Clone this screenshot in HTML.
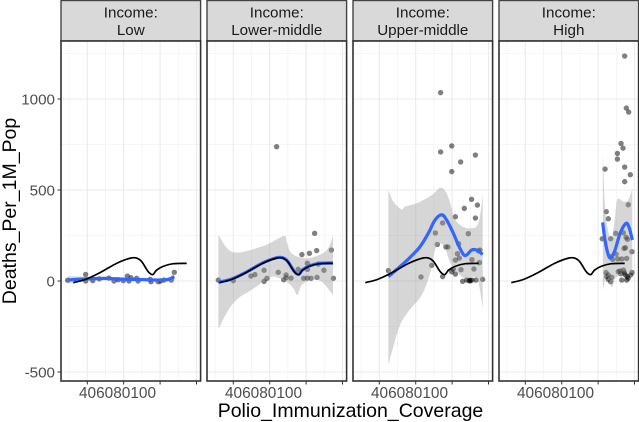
<!DOCTYPE html>
<html>
<head>
<meta charset="utf-8">
<style>
html,body{margin:0;padding:0;background:#fff;width:639px;height:422px;overflow:hidden}
svg{display:block;font-family:"Liberation Sans",sans-serif;filter:blur(0.35px)}
</style>
</head>
<body>
<svg id="chart" width="639" height="422" viewBox="0 0 639 422"></svg>
<script>
const panelNames = ["low", "lower-middle", "upper-middle", "high"];
const stripLine1 = ["Income:", "Income:", "Income:", "Income:"];
const stripLine2 = ["Low", "Lower-middle", "Upper-middle", "High"];
const xMajor = [40, 60, 80, 100];
const xMinor = [30, 50, 70, 90];
const xTickLabels = ["40", "60", "80", "100"];
const yMajor = [-500, 0, 500, 1000];
const yMinor = [-250, 250, 750, 1250];
const yTickLabels = ["-500", "0", "500", "1000"];

const globalX = [32.3, 39.1, 47, 56.1, 63.5, 67.1, 69.9, 73.5, 75.9, 78.1, 81.8, 87.3, 94.6];
const globalY = [-9, 9, 46, 97, 125, 126, 106, 51, 35, 60, 81, 95, 97];

const lowX = [29.2, 39.1, 39.1, 43, 46.6, 51.9, 54.7, 57, 59.8, 62, 64, 62.9, 67.1, 67.9, 74.5, 75, 79, 80.3, 82.1, 86.2, 87.8];
const lowY = [4, 36, 0, 2, 12, 16, 0, 7, 2, 27, 18, 0, 15, 0, 9, -4, -4, 0, 5, 5, 48];
const lowSmoothX = [29.2, 40, 50, 60, 70, 80, 85, 87.8];
const lowSmoothY = [6, 12, 14, 10, 8, 5, 10, 24];
const lowUpper = [26, 24, 24, 20, 18, 15, 22, 46];
const lowLower = [-14, 0, 4, 0, -2, -5, -2, 2];

const lowerMidX = [31.8, 40, 49.7, 51.9, 56.9, 56.9, 58.5, 64.7, 67.7, 69, 69, 71.7, 75.7, 77.7, 78.7, 80.7, 80.7, 80.7, 81.8, 82.7, 85.8, 86, 86.7, 89.8, 93.9, 95, 63.8, 84.7];
const lowerMidY = [5, 2, 27, 35, 59, -2, 15, 48, 7, 33, 18, 16, 64, 145, 15, 97, 64, 16, 152, 15, 167, 20, 93, 59, 170, 15, 738, 262];
const lowerMidSmoothX = [31.8, 39.1, 47, 56.1, 63.5, 67.1, 69.9, 73.5, 75.9, 78.1, 81.8, 87.3, 94.8];
const lowerMidSmoothY = [-7, 11, 48, 99, 127, 128, 108, 53, 37, 62, 83, 97, 99];
const lowerMidUpperX = [31.8, 40, 56.5, 67.7, 69.3, 72, 79, 84.9, 90.4, 93, 94.8];
const lowerMidUpperY = [253, 158, 192, 247, 216, 152, 125, 134, 161, 197, 253];
const lowerMidLowerX = [31.8, 37.3, 42.8, 50, 56.5, 61, 64.7, 69.3, 73, 75.2, 77.6, 83, 88.6, 94.8];
const lowerMidLowerY = [-264, -159, -95, -49, -4, 24, 18, -4, -40, -77, -22, 5, -4, -77];

const upperMidX = [73.7, 79.8, 73.7, 92.8, 84.7, 79.8, 90.7, 93.9, 86.7, 81.8, 92.8, 74.8, 70.8, 88.9, 71.9, 83.6, 76.6, 77.7, 95.3, 82.9, 84, 81.8, 90.9, 95, 68.8, 45, 62.9, 74.8, 92, 79.8, 80.7, 81.8, 84.9, 85.8, 88, 89.8, 90.9, 93.1, 96.8, 90, 89.4, 94.5];
const upperMidY = [1035, 742, 709, 692, 654, 601, 449, 417, 399, 353, 346, 319, 264, 260, 201, 205, 187, 187, 170, 150, 126, 115, 117, 101, 86, 57, 22, 24, 66, 51, 66, 38, 62, -2, 5, 0, 5, 5, 9, 3, 3, 165];
const upperMidSmoothX = [45, 51.4, 56.9, 62.4, 66.9, 70.6, 74.3, 77, 80.7, 83.4, 86.2, 88, 90.7, 93.5, 96.8];
const upperMidSmoothY = [24, 79, 130, 189, 262, 335, 364, 335, 262, 198, 146, 143, 170, 170, 146];
const upperMidUpperX = [45, 47.7, 52.3, 54.1, 60.5, 68.8, 73.7, 77, 79.8, 80.7, 84.3, 89.8, 94.4, 96.8];
const upperMidUpperY = [500, 436, 393, 408, 427, 472, 513, 481, 399, 353, 308, 289, 317, 470];
const upperMidLowerX = [45, 47.7, 51.4, 55.9, 63.3, 67.9, 70.6, 73.3, 76.1, 78.8, 82.5, 87.1, 91.7, 94.4, 96.8];
const upperMidLowerY = [-458, -361, -242, -169, -77, 42, 170, 207, 179, 106, 51, 14, 24, -4, -150];

const highX = [94.6, 95.5, 96.8, 92.6, 93.7, 90.6, 90.6, 94.6, 83.8, 97.7, 94.6, 96.6, 84.5, 85.6, 82.3, 86.9, 89.7, 93.9, 95.4, 96.1, 98.6, 94.3, 95, 89.9, 86.9, 88, 90.8, 93, 95.7, 84.4, 85.6, 87.5, 85.6, 86.9, 91.1, 92, 93.9, 95, 96.1, 93, 95.7, 98.6, 97.9, 84.7, 94.5, 96.5, 92.5];
const highY = [1236, 950, 928, 756, 730, 701, 670, 626, 615, 584, 546, 419, 381, 342, 232, 232, 262, 265, 240, 229, 161, 179, 183, 148, 134, 119, 121, 121, 124, 46, 33, 20, 9, -4, 51, 55, 60, 33, 24, 5, 5, 47, 33, 24, 45, 15, 40];
const highSmoothX = [82.5, 83.8, 85.6, 87.1, 89.3, 92.1, 95.4, 97.2, 98.8];
const highSmoothY = [322, 225, 143, 128, 170, 262, 317, 289, 225];
const highUpperX = [82.6, 83.8, 85.6, 87.5, 89.3, 90.6, 93.9, 96.6, 98.8];
const highUpperY = [700, 408, 271, 234, 353, 449, 436, 445, 509];
const highLowerX = [82.6, 84.7, 87.5, 89.3, 92.1, 93.9, 96.6, 98.8];
const highLowerY = [-50, 24, -32, 14, 33, 51, 45, 40];

const panelPoints = [[lowX, lowY], [lowerMidX, lowerMidY], [upperMidX, upperMidY], [highX, highY]];
const panelSmooth = [[lowSmoothX, lowSmoothY], [lowerMidSmoothX, lowerMidSmoothY], [upperMidSmoothX, upperMidSmoothY], [highSmoothX, highSmoothY]];
const panelRibbon = [
  [lowSmoothX, lowUpper, lowSmoothX, lowLower],
  [lowerMidUpperX, lowerMidUpperY, lowerMidLowerX, lowerMidLowerY],
  [upperMidUpperX, upperMidUpperY, upperMidLowerX, upperMidLowerY],
  [highUpperX, highUpperY, highLowerX, highLowerY]
];

const svg = document.getElementById('chart');
const NS = 'http://www.w3.org/2000/svg';
const panelLeft = i => 61 + 146 * i;
const panelWidth = 139.6, panelTop = 41, panelBottom = 381;
const xScale = (v, i) => panelLeft(i) + 26.3 + (v - 40) * 1.82;
const yScale = v => 281 - 0.182 * v;

function add(tag, attrs, parent) {
  const el = document.createElementNS(NS, tag);
  for (const k in attrs) el.setAttribute(k, attrs[k]);
  (parent || svg).appendChild(el);
  return el;
}
function curveSegs(p) {
  let d = '';
  for (let k = 0; k < p.length - 1; k++) {
    const p0 = p[Math.max(k - 1, 0)], p1 = p[k], p2 = p[k + 1], p3 = p[Math.min(k + 2, p.length - 1)];
    const c1x = p1[0] + (p2[0] - p0[0]) / 6, c1y = p1[1] + (p2[1] - p0[1]) / 6;
    const c2x = p2[0] - (p3[0] - p1[0]) / 6, c2y = p2[1] - (p3[1] - p1[1]) / 6;
    d += 'C' + c1x.toFixed(2) + ' ' + c1y.toFixed(2) + ' ' + c2x.toFixed(2) + ' ' + c2y.toFixed(2) + ' ' + p2[0].toFixed(2) + ' ' + p2[1].toFixed(2);
  }
  return d;
}
function toPixels(xs, ys, i) {
  return xs.map((v, k) => [xScale(v, i), yScale(ys[k])]);
}
function linePath(xs, ys, i) {
  const p = toPixels(xs, ys, i);
  return 'M' + p[0][0].toFixed(2) + ' ' + p[0][1].toFixed(2) + curveSegs(p);
}

panelNames.forEach((name, i) => {
  const L = panelLeft(i), R = L + panelWidth;
  const g = add('g', {});
  
  

  const strip = add('rect', {x: L, y: 0.5, width: panelWidth, height: panelTop - 0.5, fill: '#d9d9d9', stroke: '#444', 'stroke-width': 1.4}, g);
  
  
  const t1 = add('text', {x: L + panelWidth / 2, y: 17.5, 'text-anchor': 'middle', 'font-size': 15.2, fill: '#1a1a1a'}, g);
  t1.textContent = stripLine1[i];
  
  
  const t2 = add('text', {x: L + panelWidth / 2, y: 35, 'text-anchor': 'middle', 'font-size': 15.2, fill: '#1a1a1a'}, g);
  t2.textContent = stripLine2[i];
  
  

  const bg = add('rect', {x: L, y: panelTop, width: panelWidth, height: panelBottom - panelTop, fill: '#fff'}, g);
  
  

  yMinor.forEach(v => {
    const ln = add('line', {x1: L, x2: R, y1: yScale(v), y2: yScale(v), stroke: '#f3f3f3', 'stroke-width': 0.8}, g);
    
    
  });
  xMinor.forEach(v => {
    const ln = add('line', {x1: xScale(v, i), x2: xScale(v, i), y1: panelTop, y2: panelBottom, stroke: '#f3f3f3', 'stroke-width': 0.8}, g);
    
    
  });
  yMajor.forEach(v => {
    const ln = add('line', {x1: L, x2: R, y1: yScale(v), y2: yScale(v), stroke: '#ebebeb', 'stroke-width': 1.1}, g);
    
    
  });
  xMajor.forEach(v => {
    const ln = add('line', {x1: xScale(v, i), x2: xScale(v, i), y1: panelTop, y2: panelBottom, stroke: '#ebebeb', 'stroke-width': 1.1}, g);
    
    
  });

  const pts = panelPoints[i];
  pts[0].forEach((v, k) => {
    const c = add('circle', {cx: xScale(v, i), cy: yScale(pts[1][k]), r: 2.7, fill: '#000', 'fill-opacity': 0.5}, g);
    
    
  });

  const rb = panelRibbon[i];
  const up = toPixels(rb[0], rb[1], i);
  const lo = toPixels(rb[2], rb[3], i).reverse();
  const ribbonPath = 'M' + up[0][0].toFixed(2) + ' ' + up[0][1].toFixed(2) + curveSegs(up) +
    'L' + lo[0][0].toFixed(2) + ' ' + lo[0][1].toFixed(2) + curveSegs(lo) + 'Z';
  const rib = add('path', {d: ribbonPath, fill: '#999', 'fill-opacity': 0.4}, g);
  
  

  const sm = panelSmooth[i];
  const blue = add('path', {d: linePath(sm[0], sm[1], i), fill: 'none', stroke: '#3366ff', 'stroke-width': 3.2}, g);
  
  

  const black = add('path', {d: linePath(globalX, globalY, i), fill: 'none', stroke: '#000', 'stroke-width': 1.7}, g);
  
  

  const border = add('rect', {x: L, y: panelTop, width: panelWidth, height: panelBottom - panelTop, fill: 'none', stroke: '#333', 'stroke-width': 1.6}, g);
  
  

  xMajor.forEach(v => {
    const tk = add('line', {x1: xScale(v, i), x2: xScale(v, i), y1: panelBottom, y2: panelBottom + 3.5, stroke: '#333', 'stroke-width': 1}, g);
    
    
  });
  const xl = add('text', {x: L + 18, y: 398, 'font-size': 15.4, fill: '#4d4d4d'}, g);
  xl.textContent = xTickLabels.join('');
  
  
});

yMajor.forEach((v, k) => {
  const tk = add('line', {x1: 57.5, x2: 61, y1: yScale(v), y2: yScale(v), stroke: '#333', 'stroke-width': 1});
  
  
  const tl = add('text', {x: 55, y: yScale(v) + 5.5, 'text-anchor': 'end', 'font-size': 15.2, fill: '#4d4d4d'});
  tl.textContent = yTickLabels[k];
  
  
});

const xTitle = add('text', {x: 350.5, y: 417, 'text-anchor': 'middle', 'font-size': 19.5, fill: '#000'});
xTitle.textContent = 'Polio_Immunization_Coverage';



const yTitle = add('text', {transform: 'translate(16 211) rotate(-90)', 'text-anchor': 'middle', 'font-size': 19.5, fill: '#000'});
yTitle.textContent = 'Deaths_Per_1M_Pop';


</script>
</body>
</html>
